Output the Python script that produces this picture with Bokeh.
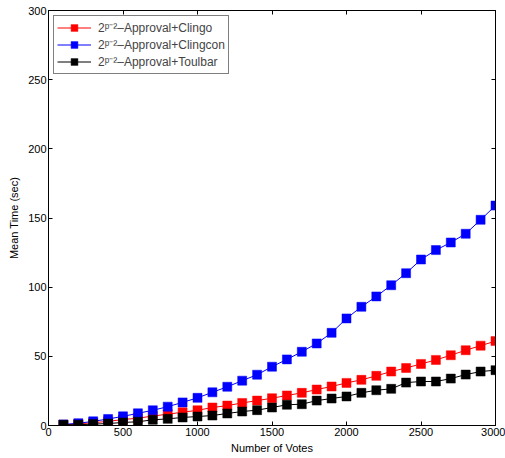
from bokeh.plotting import figure
from bokeh.models import LinearAxis, Range1d, FixedTicker, Legend, LegendItem
from bokeh.embed import file_html
from bokeh.resources import INLINE

votes = [100, 200, 300, 400, 500, 600, 700, 800, 900, 1000,
         1100, 1200, 1300, 1400, 1500, 1600, 1700, 1800, 1900, 2000,
         2100, 2200, 2300, 2400, 2500, 2600, 2700, 2800, 2900, 3000]
clingo = [0.5, 1.2, 2.0, 3.0, 4.3, 5.3, 6.8, 8.2, 9.6, 11.0,
          13.0, 14.4, 16.3, 18.0, 19.7, 21.7, 23.6, 26.0, 28.2, 30.8,
          33.0, 35.9, 39.0, 41.6, 44.5, 47.4, 50.8, 54.4, 57.7, 61.0]
clingcon = [0.8, 1.6, 3.0, 4.7, 6.6, 8.8, 11.0, 13.6, 16.7, 20.0,
            24.0, 28.0, 32.4, 36.7, 42.5, 47.8, 53.3, 59.3, 67.0, 77.4,
            85.8, 93.3, 101.4, 110.1, 120.0, 126.8, 132.3, 138.6, 148.7, 159.0]
toulbar = [0.5, 0.5, 1.0, 1.4, 2.2, 2.7, 4.1, 4.8, 5.8, 6.5,
           7.2, 8.7, 10.1, 11.1, 13.0, 15.0, 15.4, 18.0, 19.5, 21.0,
           23.6, 25.5, 26.5, 31.0, 31.8, 31.8, 33.9, 36.8, 39.0, 40.0]
labels = ["2\u1d56\u207b\u00b2\u2013Approval+Clingo",
          "2\u1d56\u207b\u00b2\u2013Approval+Clingcon",
          "2\u1d56\u207b\u00b2\u2013Approval+Toulbar"]
colors = ["#ff0000", "#0000ff", "#000000"]
x_ticks = [0, 500, 1000, 1500, 2000, 2500, 3000]
y_ticks = [0, 50, 100, 150, 200, 250, 300]

FONT = "Liberation Sans"

p = figure(width=505, height=458, output_backend="svg", toolbar_location=None,
           x_range=Range1d(0, 3000), y_range=Range1d(0, 300),
           min_border_left=48, min_border_right=10, min_border_top=10, min_border_bottom=33,
           x_axis_label="Number of Votes", y_axis_label="Mean Time (sec)")
p.frame_width = 447
p.frame_height = 415
p.xgrid.visible = False
p.ygrid.visible = False
p.outline_line_color = "black"
p.outline_line_width = 1

for ax in (p.xaxis[0], p.yaxis[0]):
    ax.major_tick_in = 4
    ax.major_tick_out = 0
    ax.minor_tick_line_color = None
    ax.axis_line_color = "black"
    ax.major_label_text_font = FONT
    ax.major_label_text_font_size = "11px"
    ax.major_label_text_color = "black"
    ax.axis_label_text_font = FONT
    ax.axis_label_text_font_size = "11px"
    ax.axis_label_text_font_style = "normal"
    ax.axis_label_text_color = "black"
p.xaxis[0].ticker = FixedTicker(ticks=x_ticks)
p.yaxis[0].ticker = FixedTicker(ticks=y_ticks)
p.xaxis[0].major_label_standoff = 2
p.yaxis[0].major_label_standoff = 2
p.xaxis[0].axis_label_standoff = 3
p.yaxis[0].axis_label_standoff = 5

top = LinearAxis(ticker=FixedTicker(ticks=x_ticks),
                 major_label_overrides={t: "" for t in x_ticks},
                 major_tick_in=4, major_tick_out=0, minor_tick_line_color=None,
                 major_label_standoff=0)
right = LinearAxis(ticker=FixedTicker(ticks=y_ticks),
                   major_label_overrides={t: "" for t in y_ticks},
                   major_tick_in=4, major_tick_out=0, minor_tick_line_color=None,
                   major_label_standoff=0)
p.add_layout(top, "above")
p.add_layout(right, "right")

series = [clingo, clingcon, toulbar]
items = []
for ys, c, lab in zip(series, colors, labels):
    r1 = p.line(votes, ys, line_color=c, line_width=1)
    r2 = p.scatter(votes, ys, marker="square", size=9, fill_color=c, line_color=c, line_alpha=0.5)
    items.append(LegendItem(label=lab, renderers=[r1, r2]))

leg = Legend(items=items, location="top_left", label_text_font=FONT,
             label_text_font_size="12px", border_line_color="black", border_line_width=1,
             spacing=0, padding=3, margin=5, glyph_width=34, glyph_height=17,
             label_height=17, label_standoff=7, background_fill_alpha=1)
p.add_layout(leg)

open("out.html", "w").write(file_html(p, INLINE))
